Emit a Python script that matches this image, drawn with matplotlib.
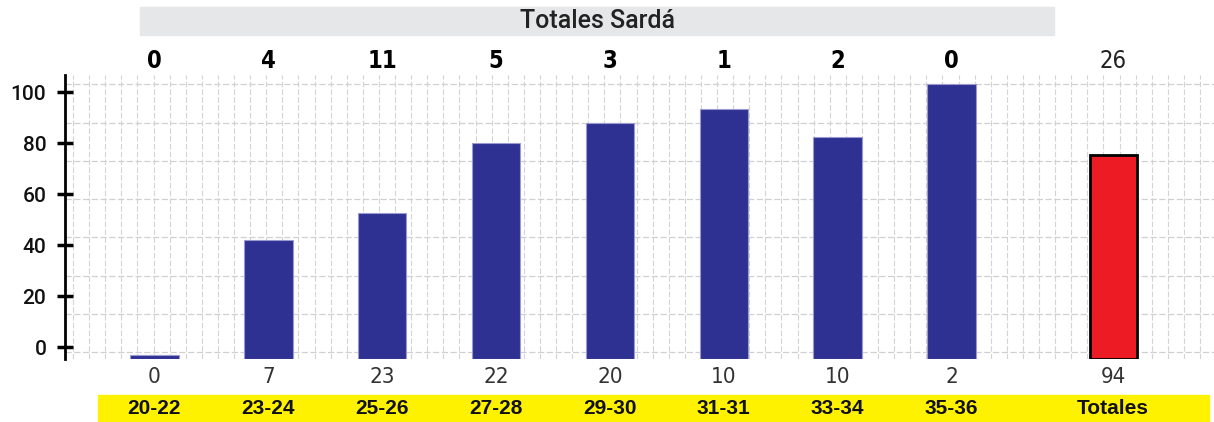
#!/usr/bin/env python3
import numpy as np
import matplotlib
matplotlib.use("Agg")
import matplotlib.pyplot as plt
from matplotlib.patches import Rectangle


TITLE = "Totales Sardá"
AGE_GROUPS = ["20-22", "23-24", "25-26", "27-28", "29-30", "31-31", "33-34", "35-36"]
TOTAL_LABEL = "Totales"
TOP_COUNTS = [0, 4, 11, 5, 3, 1, 2, 0]
TOP_TOTAL = 26
BOTTOM_COUNTS = [0, 7, 23, 22, 20, 10, 10, 2]
BOTTOM_TOTAL = 94
BAR_VALUES = [-3, 42, 52.5, 80, 88, 93.5, 82.5, 103]
BAR_TOTAL = 75.5
Y_TICKS = [0, 20, 40, 60, 80, 100]

BASE = -4.7
NARROW = ["Liberation Sans Narrow", "DejaVu Sans"]
MEDIUM = ["Roboto", "Liberation Sans", "DejaVu Sans"]
SANS = ["Liberation Sans", "DejaVu Sans"]


def main():
    fig = plt.figure(figsize=(12.14, 4.22), dpi=100)
    W, H = 1214, 422
    x0, unit = 154.5, 113.86   # pixel position of first slot, pixels per slot

    # title bar and yellow label strip (figure pixels)
    fig.patches.append(Rectangle((140 / W, 1 - 35 / H), 914 / W, 28 / H,
                                 transform=fig.transFigure, color="#e6e7e8", zorder=0))
    fig.patches.append(Rectangle((98 / W, 0), 1111 / W, 27 / H,
                                 transform=fig.transFigure, color="#fff200", zorder=0))
    fig.text(597 / W, 1 - 21 / H, TITLE, ha="center", va="center",
             fontsize=18, family=MEDIUM, fontweight="medium", color="#222222")

    ax = fig.add_axes([65 / W, 1 - 359 / H, (W - 65) / W, 284 / H])
    ax.set_xlim((65 - x0) / unit, (W - x0) / unit)
    ax.set_ylim(BASE, 106.7)

    x = np.append(np.arange(len(AGE_GROUPS)), len(AGE_GROUPS) + 0.42)
    ax.bar(x[:-1], np.array(BAR_VALUES) - BASE, bottom=BASE, width=0.425,
           color="#2e3192", edgecolor="#9a9ad0", linewidth=0.8, zorder=3)
    ax.bar(x[-1], BAR_TOTAL - BASE, bottom=BASE, width=0.41,
           color="#ed1c24", edgecolor="black", linewidth=2, zorder=3)

    # dashed background grid
    for gx in np.arange((73 - x0) / unit, 9.4, 16.1 / unit):
        ax.axvline(gx, color="#d4d4d4", lw=0.8, ls=(0, (5, 2)), zorder=1)
    for gy in np.arange(-2, 106, 15):
        ax.axhline(gy, color="#d0d0d0", lw=0.9, ls=(0, (5, 2)), zorder=1)

    for s in ["top", "right", "bottom"]:
        ax.spines[s].set_visible(False)
    ax.spines["left"].set_linewidth(2)
    ax.set_xticks([])
    ax.set_yticks(Y_TICKS)
    ax.tick_params(axis="y", direction="inout", length=11, width=2.5, pad=8,
                   labelsize=15, labelcolor="#111111")
    for lab in ax.get_yticklabels():
        lab.set_family(MEDIUM)
        lab.set_fontweight("medium")

    tr = ax.get_xaxis_transform()
    tops = TOP_COUNTS + [TOP_TOTAL]
    bottoms = BOTTOM_COUNTS + [BOTTOM_TOTAL]
    labels = AGE_GROUPS + [TOTAL_LABEL]
    for i, xi in enumerate(x):
        last = i == len(x) - 1
        ax.text(xi, 1.049, str(tops[i]), transform=tr, ha="center", va="center",
                fontsize=17, family=NARROW, fontstretch="condensed",
                fontweight="normal" if last else "bold",
                color="#222222" if last else "black", clip_on=False)
        ax.text(xi, -0.063, str(bottoms[i]), transform=tr, ha="center", va="center",
                fontsize=16, family=NARROW, fontstretch="condensed",
                color="#333333", clip_on=False)
        fig.text((x0 + xi * unit) / W, 1 - 409 / H, labels[i], ha="center",
                 va="center", fontsize=15, family=SANS, fontweight="bold", color="#111111")

    fig.savefig("out.png", dpi=100)


if __name__ == '__main__':
    main()
